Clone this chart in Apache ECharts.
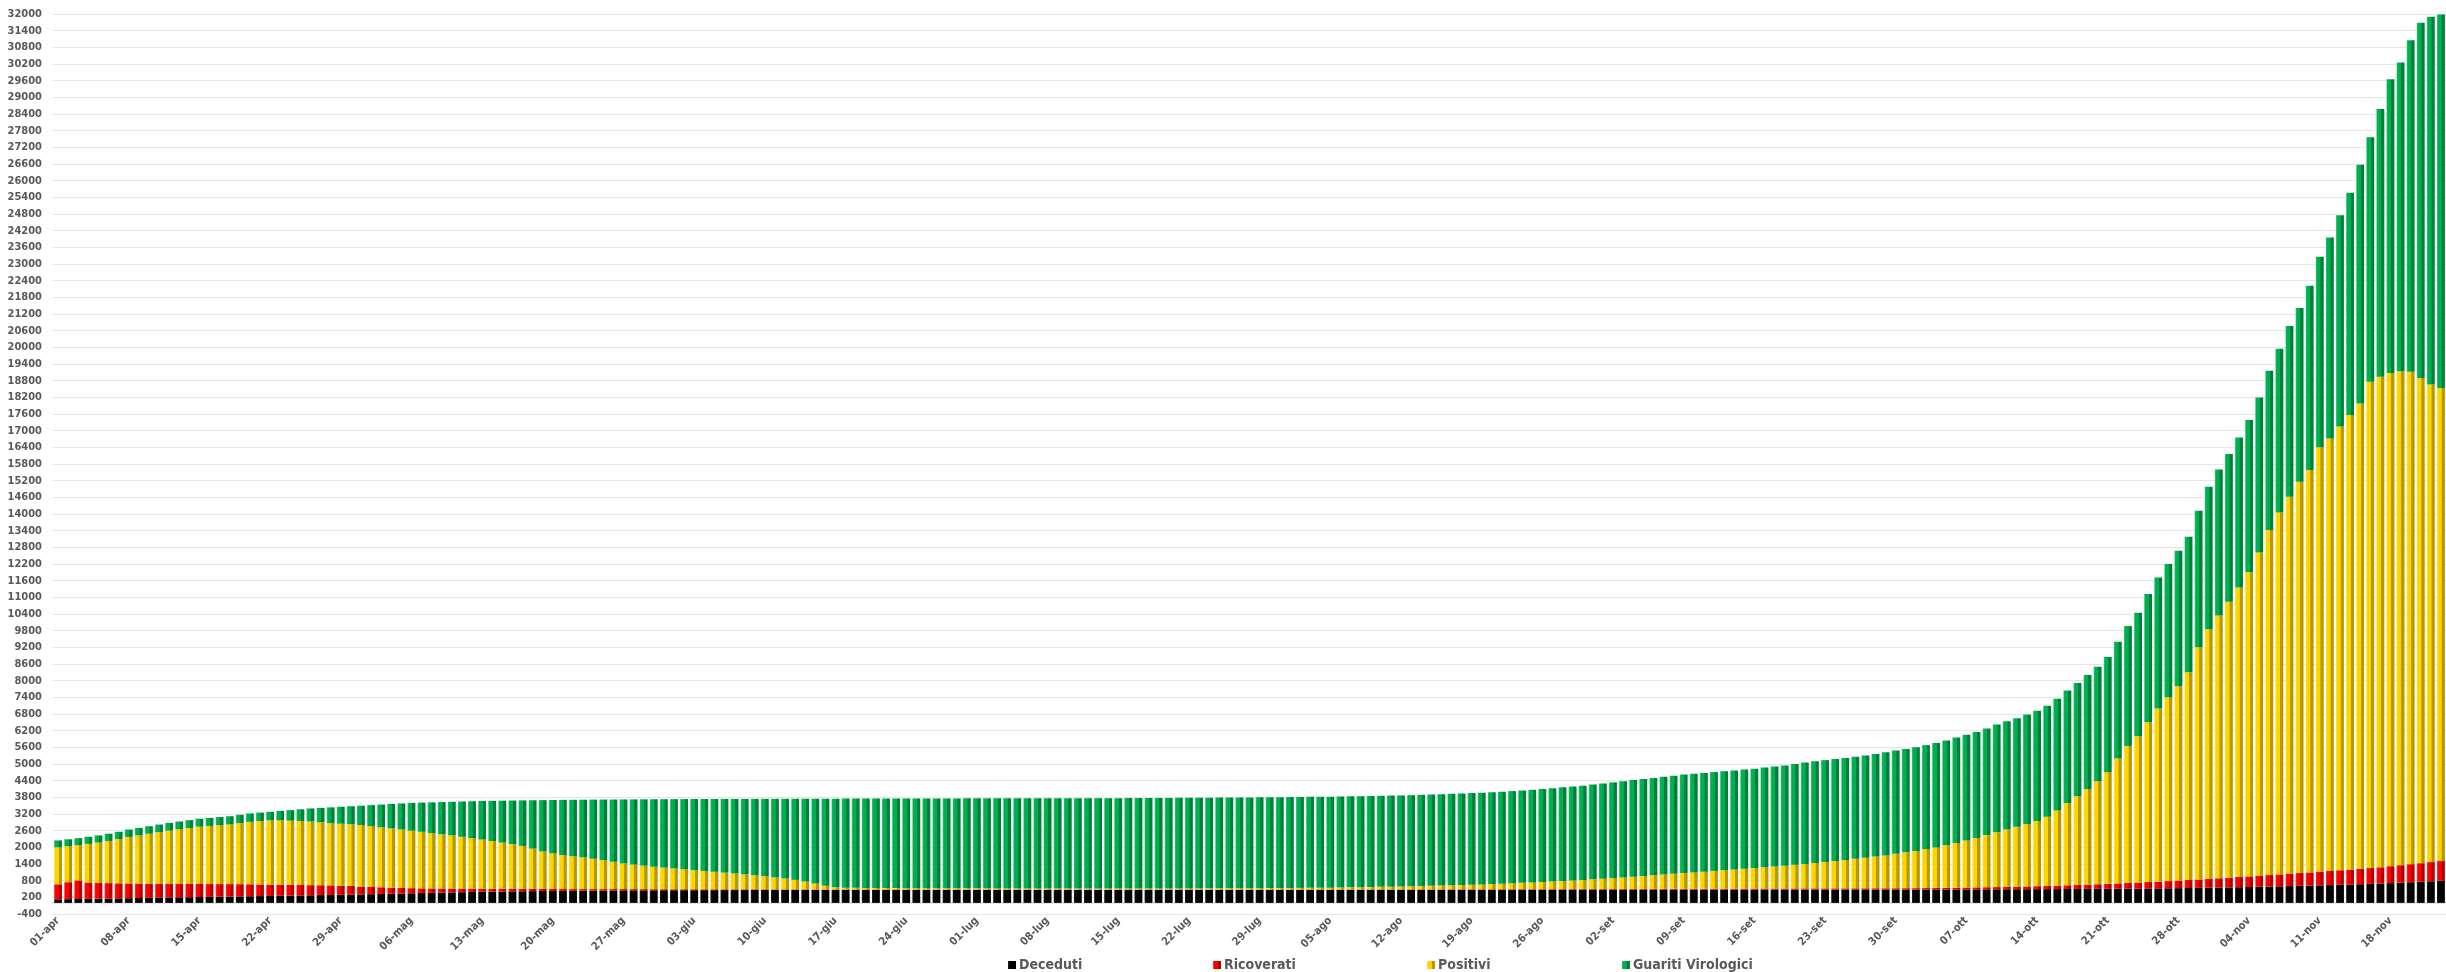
<!DOCTYPE html>
<html>
<head>
<meta charset="utf-8">
<script src="https://cdn.jsdelivr.net/npm/echarts@6/dist/echarts.min.js"></script>
<style>
html,body{margin:0;padding:0;background:#fff;}
#chart{width:2446px;height:972px;}
</style>
</head>
<body>
<div id="chart"></div>
<script>
const categories = ("01-apr 02-apr 03-apr 04-apr 05-apr 06-apr 07-apr 08-apr 09-apr 10-apr 11-apr 12-apr 13-apr 14-apr 15-apr 16-apr 17-apr 18-apr 19-apr 20-apr 21-apr 22-apr 23-apr 24-apr 25-apr 26-apr 27-apr 28-apr 29-apr 30-apr " +
"01-mag 02-mag 03-mag 04-mag 05-mag 06-mag 07-mag 08-mag 09-mag 10-mag 11-mag 12-mag 13-mag 14-mag 15-mag 16-mag 17-mag 18-mag 19-mag 20-mag 21-mag 22-mag 23-mag 24-mag 25-mag 26-mag 27-mag 28-mag 29-mag 30-mag 31-mag " +
"01-giu 02-giu 03-giu 04-giu 05-giu 06-giu 07-giu 08-giu 09-giu 10-giu 11-giu 12-giu 13-giu 14-giu 15-giu 16-giu 17-giu 18-giu 19-giu 20-giu 21-giu 22-giu 23-giu 24-giu 25-giu 26-giu 27-giu 28-giu 29-giu 30-giu " +
"01-lug 02-lug 03-lug 04-lug 05-lug 06-lug 07-lug 08-lug 09-lug 10-lug 11-lug 12-lug 13-lug 14-lug 15-lug 16-lug 17-lug 18-lug 19-lug 20-lug 21-lug 22-lug 23-lug 24-lug 25-lug 26-lug 27-lug 28-lug 29-lug 30-lug 31-lug " +
"01-ago 02-ago 03-ago 04-ago 05-ago 06-ago 07-ago 08-ago 09-ago 10-ago 11-ago 12-ago 13-ago 14-ago 15-ago 16-ago 17-ago 18-ago 19-ago 20-ago 21-ago 22-ago 23-ago 24-ago 25-ago 26-ago 27-ago 28-ago 29-ago 30-ago 31-ago " +
"01-set 02-set 03-set 04-set 05-set 06-set 07-set 08-set 09-set 10-set 11-set 12-set 13-set 14-set 15-set 16-set 17-set 18-set 19-set 20-set 21-set 22-set 23-set 24-set 25-set 26-set 27-set 28-set 29-set 30-set " +
"01-ott 02-ott 03-ott 04-ott 05-ott 06-ott 07-ott 08-ott 09-ott 10-ott 11-ott 12-ott 13-ott 14-ott 15-ott 16-ott 17-ott 18-ott 19-ott 20-ott 21-ott 22-ott 23-ott 24-ott 25-ott 26-ott 27-ott 28-ott 29-ott 30-ott 31-ott " +
"01-nov 02-nov 03-nov 04-nov 05-nov 06-nov 07-nov 08-nov 09-nov 10-nov 11-nov 12-nov 13-nov 14-nov 15-nov 16-nov 17-nov 18-nov 19-nov 20-nov 21-nov 22-nov 23-nov").split(" ");

const deceduti = [
130,135,140,146,152,158,164,
170,176,182,188,194,200,205,
210,216,222,228,234,240,245,
250,256,262,268,274,280,285,
290,298,306,314,322,330,338,
345,353,361,369,377,385,393,
400,405,410,415,420,424,427,
430,433,436,439,442,445,448,
450,452,453,454,455,456,457,
458,459,460,461,462,463,464,
465,465,466,466,467,467,467,
468,468,468,468,468,468,468,
468,468,469,469,469,469,469,
470,470,470,470,470,470,470,
470,470,470,470,470,470,470,
470,470,470,470,470,470,470,
470,470,470,470,470,470,470,
470,470,470,470,470,470,470,
471,471,471,471,471,471,471,
471,471,472,472,472,472,472,
472,472,473,473,473,473,473,
473,473,473,474,474,474,474,
474,474,474,475,475,475,475,
475,475,476,476,476,476,477,
477,477,477,477,478,478,478,
478,478,478,479,479,479,479,
479,480,480,481,482,483,484,
485,486,487,488,490,491,492,
494,495,497,499,501,503,505,
507,510,513,516,519,522,526,
530,535,540,546,552,558,565,
572,580,588,596,604,612,620,
630,640,650,661,672,684,696,
712,728,744,760,778,795];

const ricoverati = [
540,610,670,590,570,555,540,
530,520,510,500,495,490,480,
470,462,455,448,440,430,420,
405,395,385,375,365,355,345,
330,315,280,260,240,220,200,
185,170,160,150,140,130,120,
110,100,95,90,85,80,75,
70,66,62,58,55,52,50,
48,45,42,40,38,36,34,
32,30,28,27,26,25,24,
23,22,21,20,19,18,17,
16,15,15,14,14,13,13,
12,12,12,11,11,11,10,
10,10,10,9,9,9,9,
9,9,8,8,8,8,8,
8,8,8,8,8,9,9,
9,9,9,10,10,10,10,
10,10,11,11,11,12,12,
12,12,13,13,13,14,14,
14,15,15,15,16,16,17,
17,18,18,19,19,20,20,
21,21,22,22,23,24,24,
25,26,27,28,29,30,31,
32,33,34,35,36,37,38,
39,40,41,42,43,44,45,
45,46,46,47,47,48,48,
49,50,51,53,56,60,64,
68,72,77,82,88,94,100,
108,116,125,135,145,155,166,
178,190,203,216,230,244,258,
272,287,302,318,334,350,366,
382,398,414,430,446,462,478,
494,510,525,540,555,570,585,
610,630,650,670,690,710];

const positivi = [
1330,1293,1266,1388,1450,1517,1593,
1674,1735,1796,1857,1913,1959,2011,
2063,2092,2120,2148,2197,2248,2280,
2315,2319,2313,2307,2291,2265,2240,
2230,2217,2214,2186,2158,2130,2102,
2070,2037,1989,1951,1913,1865,1817,
1770,1720,1665,1610,1545,1451,1348,
1280,1221,1182,1143,1093,1043,982,
922,883,845,806,777,748,719,
690,661,632,602,572,542,512,
472,433,393,344,284,215,136,
76,62,58,56,55,54,52,
50,50,48,47,46,45,45,
44,43,42,42,41,40,40,
40,39,38,38,38,37,37,
37,38,38,39,40,40,41,
42,43,44,45,46,47,48,
50,52,54,56,58,60,62,
66,70,75,80,86,92,98,
105,112,120,128,137,146,155,
165,176,188,200,214,228,243,
258,275,292,310,330,350,372,
395,418,442,466,490,515,540,
565,590,615,640,665,690,715,
740,765,790,820,850,880,915,
950,985,1020,1060,1100,1140,1180,
1240,1290,1340,1400,1460,1530,1610,
1697,1782,1876,1970,2062,2155,2248,
2348,2489,2708,2966,3194,3442,3709,
4015,4500,4934,5268,5751,6234,6616,
6998,7478,8358,8986,9464,9932,10425,
10946,11638,12418,13030,13570,14086,14482,
15276,15570,15975,16359,16753,17506,17659,
17758,17782,17726,17470,17192,17035];

const guariti = [
250,252,254,256,258,260,263,
266,269,272,275,278,281,284,
287,290,293,296,299,302,305,
310,340,380,420,470,520,570,
610,650,700,760,820,880,940,
1000,1050,1110,1160,1210,1270,1330,
1390,1450,1510,1570,1640,1740,1850,
1925,1990,2032,2075,2128,2180,2242,
2305,2347,2389,2431,2463,2495,2527,
2559,2590,2621,2652,2683,2714,2745,
2786,2827,2868,2919,2980,3051,3132,
3193,3209,3214,3218,3220,3223,3226,
3230,3230,3232,3234,3236,3237,3239,
3239,3241,3242,3244,3245,3247,3247,
3248,3249,3252,3252,3253,3254,3255,
3256,3257,3258,3259,3260,3261,3262,
3263,3264,3265,3266,3267,3268,3269,
3270,3271,3272,3273,3274,3275,3276,
3276,3277,3277,3278,3278,3278,3279,
3280,3282,3283,3285,3287,3291,3294,
3298,3300,3301,3308,3319,3329,3339,
3348,3361,3373,3384,3393,3412,3430,
3446,3462,3477,3491,3506,3520,3534,
3548,3552,3555,3559,3563,3567,3570,
3574,3588,3602,3611,3629,3648,3662,
3667,3671,3676,3679,3684,3693,3713,
3717,3720,3729,3746,3762,3777,3792,
3800,3810,3840,3880,3900,3910,3940,
3970,4000,4020,4050,4080,4100,4120,
4150,4200,4314,4444,4616,4716,4796,
4876,4880,4916,5130,5254,5316,5400,
5480,5580,5736,5892,6144,6252,6641,
6861,7234,7605,8007,8591,8803,9639,
10574,11112,11932,12786,13240,13440];

const seriesNames = ["Deceduti", "Ricoverati", "Positivi", "Guariti Virologici"];
const yMin = -400, yMax = 32000, yStep = 600;

const FONT = "'Liberation Sans Narrow', 'DejaVu Sans Condensed', 'Liberation Sans', sans-serif";
const LABEL_COLOR = "#595959";

function barGrad(hi, base, dark) {
  return new echarts.graphic.LinearGradient(0, 0, 1, 0, [
    {offset: 0, color: hi},
    {offset: 0.15, color: base},
    {offset: 0.55, color: base},
    {offset: 0.62, color: dark},
    {offset: 1, color: dark}
  ]);
}
const styles = [
  {legend: "#000000", fill: barGrad("#2a2a2a", "#050505", "#000000")},
  {legend: "#FF0000", fill: barGrad("#ff4a4a", "#ff0000", "#b30000")},
  {legend: "#FFD700", fill: barGrad("#ffe54d", "#ffd500", "#b89800")},
  {legend: "#00B050", fill: barGrad("#3fcc7c", "#00b050", "#00803a")}
];
const dataSets = [deceduti, ricoverati, positivi, guariti];

const chart = echarts.init(document.getElementById("chart"), null, {renderer: "canvas"});
const legendLefts = [1003, 1208, 1422, 1617];

chart.setOption({
  backgroundColor: "#ffffff",
  animation: false,
  grid: {left: 53, right: -5, top: 14, bottom: 58, containLabel: false},
  legend: seriesNames.map((n, i) => ({
    data: [n], left: legendLefts[i], top: 953, icon: "rect",
    itemWidth: 8, itemHeight: 8, itemGap: 4,
    textStyle: {color: LABEL_COLOR, fontFamily: FONT, fontSize: 14, fontWeight: "bold", padding: [0, 0, 0, -2]}
  })),
  xAxis: {
    type: "category",
    data: categories,
    boundaryGap: true,
    axisLine: {show: true, lineStyle: {color: "#E4E4E4", width: 2}},
    axisTick: {show: false},
    axisLabel: {
      interval: 6, rotate: 45, margin: 5,
      color: LABEL_COLOR, fontFamily: FONT, fontSize: 11, fontWeight: "bold"
    },
    splitLine: {show: false}
  },
  yAxis: {
    type: "value",
    min: yMin, max: yMax, interval: yStep,
    axisLine: {show: false},
    axisTick: {show: false},
    axisLabel: {
      color: LABEL_COLOR, fontFamily: FONT, fontSize: 11, fontWeight: "bold", margin: 11,
      formatter: v => String(v)
    },
    splitLine: {lineStyle: {color: "#E6E6E6", width: 1}}
  },
  series: seriesNames.map((n, i) => ({
    name: n,
    type: "bar",
    stack: "tot",
    data: dataSets[i],
    barWidth: "78%",
    itemStyle: {color: styles[i].fill},
    emphasis: {disabled: true}
  })),
  color: styles.map(s => s.legend)
});
</script>
</body>
</html>
